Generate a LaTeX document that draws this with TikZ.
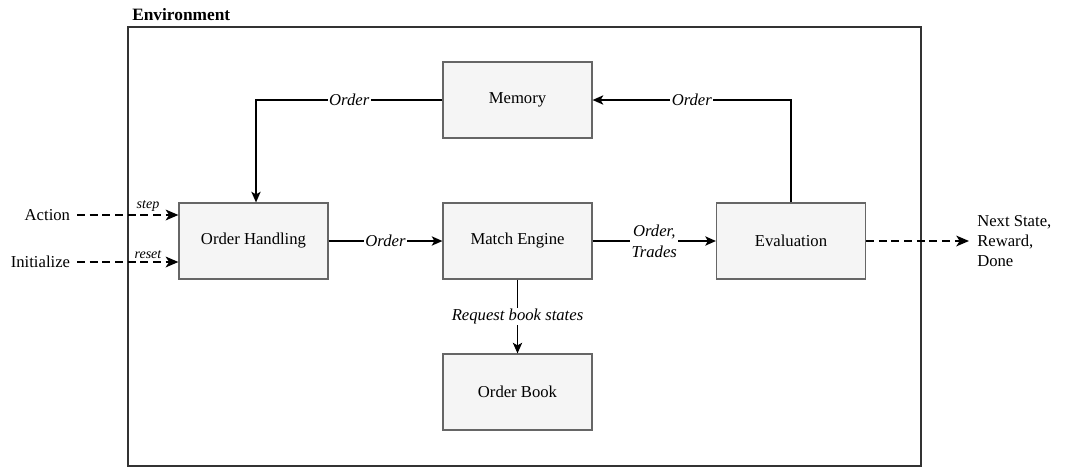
\documentclass[tikz,border=0pt]{standalone}
\usepackage{fontspec}
\setmainfont{Liberation Serif}
\usetikzlibrary{arrows.meta}

\definecolor{boxfill}{HTML}{F5F5F5}
\definecolor{boxline}{HTML}{666666}

\begin{document}
\begin{tikzpicture}[x=0.75pt,y=-0.75pt]
\tikzstyle{block}=[draw=boxline, fill=boxfill, line width=0.9pt, minimum width=111.75pt, minimum height=57pt, font=\fontsize{12.5}{15}\selectfont, inner sep=0pt]
\tikzstyle{line}=[draw, line width=1pt, -{Stealth[length=8pt,width=7pt,inset=2pt]}]
\tikzstyle{ioline}=[draw, line width=1.6pt, dash pattern=on 6pt off 3.5pt, -{Stealth[length=9.5pt,width=8pt,inset=2.5pt]}]
\tikzstyle{lbl}=[font=\fontsize{12.5}{14}\selectfont\itshape, fill=white, inner sep=1pt]
\tikzstyle{io}=[font=\fontsize{12.5}{15}\selectfont]
\tikzstyle{cmd}=[font=\fontsize{10.5}{12}\selectfont\itshape, above=-1.5pt]

\useasboundingbox (0,0) rectangle (1066,468);

% Environment frame
\draw[line width=0.9pt, draw=black!80] (128,27) rectangle (921,466);
\node[anchor=south west, font=\fontsize{13}{15}\selectfont\bfseries, inner sep=0pt] (envlabel) at (132,21) {Environment};

% Blocks
\node[block] (memory) at (517.5,100) {Memory};
\node[block] (handling) at (253.5,241) {Order Handling};
\node[block] (engine) at (517.5,241) {Match Engine};
\node[block] (evaluation) at (791,241) {Evaluation};
\node[block] (book) at (517.5,392) {Order Book};

% Inputs and outputs
\node[io, anchor=east, inner ysep=0pt, inner xsep=5pt] (action) at (77,215) {Action};
\node[io, anchor=east, inner ysep=0pt, inner xsep=5pt] (init) at (77,262) {Initialize};
\node[io, anchor=west, align=left, inner sep=0pt] (result) at (977,241) {Next State,\\Reward,\\Done};

% Connections
\draw[line] (memory.west) -- node[lbl] {Order} (256,100) -- (handling.north -| 256,0);
\draw[line] (evaluation.north) -- (evaluation.north |- memory) -- node[lbl] {Order} (memory.east);
\draw[line] (handling) -- node[lbl] {Order} (engine);
\draw[line] (engine) -- node[lbl, align=center, font=\fontsize{12.5}{16}\selectfont\itshape] {Order,\\Trades} (evaluation);
\draw[line] (engine) -- node[lbl] {Request book states} (book);

\draw[ioline] (action) -- node[pos=0.7, cmd] {step} (action -| handling.west);
\draw[ioline] (init) -- node[pos=0.7, cmd] {reset} (init -| handling.west);
\draw[ioline] (evaluation) -- ([xshift=-6pt]result.west);
\end{tikzpicture}
\end{document}
